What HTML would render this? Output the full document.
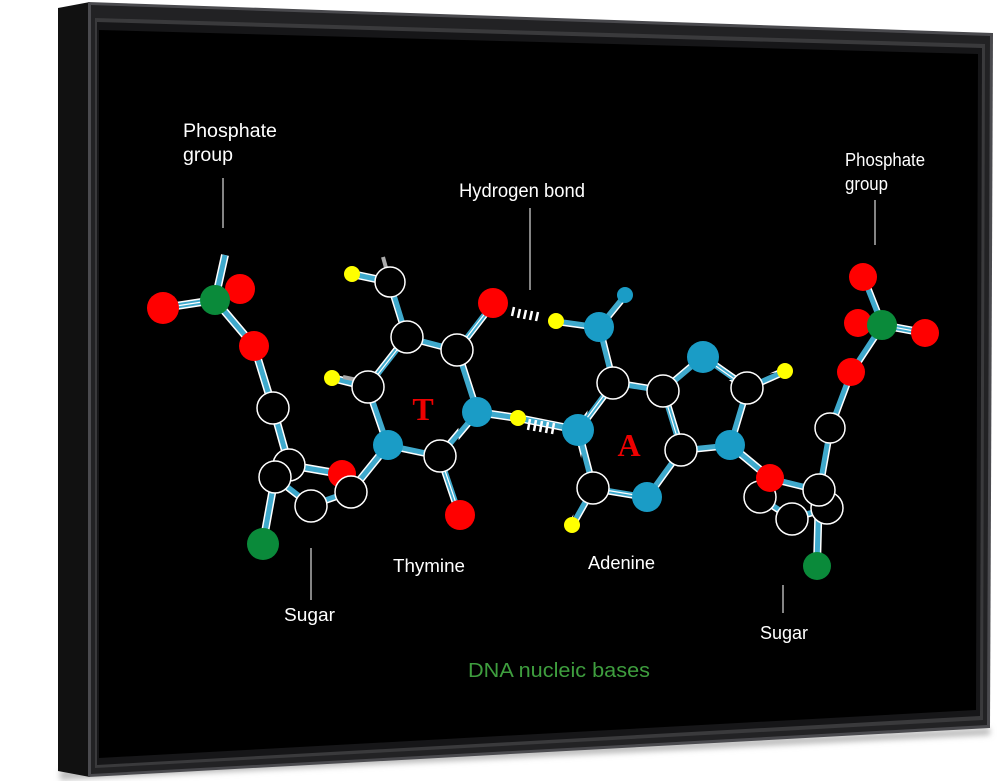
<!DOCTYPE html>
<html><head><meta charset="utf-8"><style>
html,body{margin:0;padding:0;background:#fff;width:1000px;height:781px;overflow:hidden}
svg{display:block}
text{font-family:"Liberation Sans",sans-serif;fill:#fff}
</style></head><body>
<svg width="1000" height="781" viewBox="0 0 1000 781" xmlns="http://www.w3.org/2000/svg">
<defs>
<filter id="sh" x="-10%" y="-10%" width="120%" height="120%"><feGaussianBlur stdDeviation="3"/></filter>
</defs>
<polygon points="60,770 990,728 990,735 60,780" fill="#bbb" filter="url(#sh)"/>
<polygon points="58,8 90,2 90,777 58,771" fill="#111"/>
<polygon points="88,2 993,33 990,728 88,777" fill="#4a4a4e"/>
<polygon points="91,5 990,36 987,725 91,774" fill="#222224"/>
<polygon points="95,18 985,44 983,720 95,768" fill="#3a3a3c"/>
<polygon points="97,22 982,48 980,716 97,765" fill="#161618"/>
<polygon points="99,30 978,54 976,710 99,758" fill="#000"/>

<text x="183" y="137" font-size="19" textLength="94" lengthAdjust="spacingAndGlyphs">Phosphate</text>
<text x="183" y="161" font-size="19" textLength="50" lengthAdjust="spacingAndGlyphs">group</text>
<line x1="223" y1="178" x2="223" y2="228" stroke="#ddd" stroke-width="1.2"/>
<text x="459" y="197" font-size="19" textLength="126" lengthAdjust="spacingAndGlyphs">Hydrogen bond</text>
<line x1="530" y1="208" x2="530" y2="290" stroke="#ddd" stroke-width="1.2"/>
<text x="845" y="166" font-size="18" textLength="80" lengthAdjust="spacingAndGlyphs">Phosphate</text>
<text x="845" y="190" font-size="18" textLength="43" lengthAdjust="spacingAndGlyphs">group</text>
<line x1="875" y1="200" x2="875" y2="245" stroke="#ddd" stroke-width="1.2"/>
<text x="393" y="572" font-size="18" textLength="72" lengthAdjust="spacingAndGlyphs">Thymine</text>
<text x="588" y="569" font-size="18" textLength="67" lengthAdjust="spacingAndGlyphs">Adenine</text>
<line x1="311" y1="548" x2="311" y2="600" stroke="#ddd" stroke-width="1.2"/>
<text x="284" y="621" font-size="18" textLength="51" lengthAdjust="spacingAndGlyphs">Sugar</text>
<line x1="783" y1="585" x2="783" y2="613" stroke="#ddd" stroke-width="1.2"/>
<text x="760" y="639" font-size="18" textLength="48" lengthAdjust="spacingAndGlyphs">Sugar</text>
<text x="468" y="677" font-size="20" style="fill:#3e9e3e" textLength="182" lengthAdjust="spacingAndGlyphs">DNA nucleic bases</text>

<g stroke-linecap="butt">
<g stroke="#fff" stroke-width="8">
<path d="M215,300 L225,255 M215,300 L163,308 M215,300 L240,289 M215,300 L254,346 M254,346 L273,408 L289,465 M289,465 L341,474 M275,477 L263,543 M275,477 L311,505 L351,491 M351,491 L388,445
M390,282 L352,274 M390,282 L407,337 L457,350 L493,303 M457,350 L477,412 L440,456 L460,515 M440,456 L388,445 L368,387 L407,337 M368,387 L332,378 M477,412 L518,418
M556,321 L599,327 L625,295 M599,327 L613,383 L578,430 L593,488 L572,525 M593,488 L647,497 L681,450 L663,391 L613,383 M663,391 L703,357 L747,388 L785,371 M747,388 L730,445 L681,450 M730,445 L770,478 M578,430 L518,418
M770,478 L819,490 L830,428 L851,372 L882,325 L863,277 M882,325 L858,323 M882,325 L925,333 M760,497 L792,518 L827,508 M819,490 L817,565"/>
</g>
<g stroke="#3fa9cc" stroke-width="5">
<path d="M215,300 L225,255 M215,300 L163,308 M215,300 L240,289 M215,300 L254,346 M254,346 L273,408 L289,465 M289,465 L341,474 M275,477 L263,543 M275,477 L311,505 L351,491 M351,491 L388,445
M390,282 L352,274 M390,282 L407,337 L457,350 L493,303 M457,350 L477,412 L440,456 L460,515 M440,456 L388,445 L368,387 L407,337 M368,387 L332,378 M477,412 L518,418
M556,321 L599,327 L625,295 M599,327 L613,383 L578,430 L593,488 L572,525 M593,488 L647,497 L681,450 L663,391 L613,383 M663,391 L703,357 L747,388 L785,371 M747,388 L730,445 L681,450 M730,445 L770,478 M578,430 L518,418
M770,478 L819,490 L830,428 L851,372 L882,325 L863,277 M882,325 L858,323 M882,325 L925,333 M760,497 L792,518 L827,508 M819,490 L817,565"/>
</g>
<g stroke="#fff" stroke-width="1.2">
<path d="M457,350 L493,303 M440,456 L460,515 M368,387 L407,337 M215,300 L163,308 M882,325 L925,333 M613,383 L578,430 M593,488 L647,497 M703,357 L747,388 M663,391 L681,450"/>
</g>
<g stroke="#fff" stroke-width="2.5">
<path d="M514,307 L512,316 M520,309 L518,318 M526,310 L524,319 M532,311 L530,320 M538,312 L536,321"/>
<path d="M530,419 L528,430 M536,420 L534,431 M542,421 L540,432 M548,422 L546,433 M554,423 L552,434"/>
</g>
<line x1="383" y1="257" x2="388" y2="275" stroke="#aaa" stroke-width="4"/>
<line x1="343" y1="377" x2="362" y2="381" stroke="#aaa" stroke-width="4"/>
</g>

<g stroke="#fff" stroke-width="1.5" fill="#000">
<circle cx="273" cy="408" r="16"/>
<circle cx="289" cy="465" r="16"/>
<circle cx="275" cy="477" r="16"/>
<circle cx="311" cy="506" r="16"/>
<circle cx="390" cy="282" r="15"/>
<circle cx="407" cy="337" r="16"/>
<circle cx="457" cy="350" r="16"/>
<circle cx="440" cy="456" r="16"/>
<circle cx="368" cy="387" r="16"/>
<circle cx="613" cy="383" r="16"/>
<circle cx="663" cy="391" r="16"/>
<circle cx="747" cy="388" r="16"/>
<circle cx="681" cy="450" r="16"/>
<circle cx="593" cy="488" r="16"/>
<circle cx="760" cy="497" r="16"/>
<circle cx="792" cy="519" r="16"/>
<circle cx="827" cy="508" r="16"/>
<circle cx="819" cy="490" r="16"/>
<circle cx="830" cy="428" r="15"/>
</g>
<g fill="#ff0000">
<circle cx="163" cy="308" r="16"/>
<circle cx="240" cy="289" r="15"/>
<circle cx="254" cy="346" r="15"/>
<circle cx="342" cy="474" r="14"/>
<circle cx="493" cy="303" r="15"/>
<circle cx="460" cy="515" r="15"/>
<circle cx="770" cy="478" r="14"/>
<circle cx="851" cy="372" r="14"/>
<circle cx="863" cy="277" r="14"/>
<circle cx="858" cy="323" r="14"/>
<circle cx="925" cy="333" r="14"/>
</g>
<circle cx="351" cy="492" r="16" fill="#000" stroke="#fff" stroke-width="1.5"/>
<g fill="#0a8a3a">
<circle cx="215" cy="300" r="15"/>
<circle cx="263" cy="544" r="16"/>
<circle cx="882" cy="325" r="15"/>
<circle cx="817" cy="566" r="14"/>
</g>
<g fill="#1a9cc6">
<circle cx="477" cy="412" r="15"/>
<circle cx="388" cy="445" r="15"/>
<circle cx="599" cy="327" r="15"/>
<circle cx="625" cy="295" r="8"/>
<circle cx="703" cy="357" r="16"/>
<circle cx="730" cy="445" r="15"/>
<circle cx="647" cy="497" r="15"/>
<circle cx="578" cy="430" r="16"/>
</g>
<g fill="#ffff00">
<circle cx="352" cy="274" r="8"/>
<circle cx="332" cy="378" r="8"/>
<circle cx="518" cy="418" r="8"/>
<circle cx="556" cy="321" r="8"/>
<circle cx="785" cy="371" r="8"/>
<circle cx="572" cy="525" r="8"/>
</g>
<text x="423" y="420" font-size="32" style="fill:#e00;font-family:'Liberation Serif',serif;font-weight:bold" text-anchor="middle">T</text>
<text x="629" y="456" font-size="32" style="fill:#e00;font-family:'Liberation Serif',serif;font-weight:bold" text-anchor="middle">A</text>
</svg>
</body></html>
